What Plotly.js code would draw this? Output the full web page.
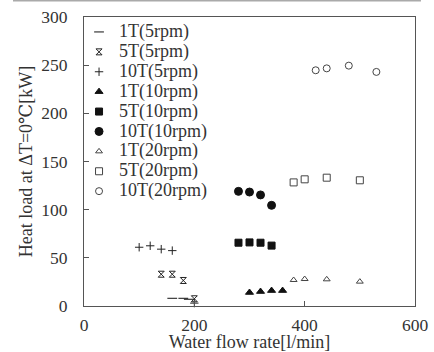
<!DOCTYPE html>
<html><head><meta charset="utf-8">
<script src="https://cdn.plot.ly/plotly-3.0.1.min.js"></script>
<style>html,body{margin:0;padding:0;background:#fff}</style>
</head><body><div id="chart" style="width:434px;height:352px"></div>
<script>
const seriesNames = ['1T(5rpm)','5T(5rpm)','10T(5rpm)','1T(10rpm)','5T(10rpm)','10T(10rpm)','1T(20rpm)','5T(20rpm)','10T(20rpm)'];
const flow_1T5  = [160, 180, 190];
const load_1T5  = [8, 8, 7];
const flow_5T5  = [140, 160, 180, 200];
const load_5T5  = [33, 33, 26.5, 7.5];
const flow_10T5 = [100, 120, 140, 160, 200];
const load_10T5 = [61, 62.5, 59, 57.5, 3];
const flow_1T10  = [300, 320, 340, 360];
const load_1T10  = [14, 15, 16, 16];
const flow_5T10  = [280, 300, 320, 340];
const load_5T10  = [65.7, 66, 65.7, 62.7];
const flow_10T10 = [280, 300, 320, 340];
const load_10T10 = [119, 118.3, 115.3, 104.5];
const flow_1T20  = [380, 400, 440, 500];
const load_1T20  = [27, 28, 27.7, 25.3];
const flow_5T20  = [380, 400, 440, 500];
const load_5T20  = [128.3, 131.5, 133.2, 130.5];
const flow_10T20 = [420, 440, 480, 530];
const load_10T20 = [244.7, 246.7, 249.5, 243];
const xTicks = [0, 200, 400, 600];
const yTicks = [0, 50, 100, 150, 200, 250, 300];

const flows = [flow_1T5, flow_5T5, flow_10T5, flow_1T10, flow_5T10, flow_10T10, flow_1T20, flow_5T20, flow_10T20];
const loads = [load_1T5, load_5T5, load_10T5, load_1T10, load_5T10, load_10T10, load_1T20, load_5T20, load_10T20];
const symbols = ['line-ew-open','hourglass-open','cross-thin-open','triangle-up','square','circle','triangle-up-open','square-open','circle-open'];
const sizes = [7, 6, 6, 7, 7, 8, 6, 7, 7];
const colors = ['#111','#222','#222','#111','#111','#111','#444','#444','#444'];

const traces = seriesNames.map((n, i) => ({
  type: 'scatter', mode: 'markers',
  x: flows[i], y: loads[i],
  name: '<span style="font-size:18px">' + n + '</span>',
  marker: {symbol: symbols[i], size: sizes[i], color: colors[i], line: {color: colors[i], width: 1}},
  cliponaxis: false
}));

const fam = '"Liberation Serif", "DejaVu Serif", serif';
const font = {family: fam, size: 18, color: '#333'};
const layout = {
  width: 434, height: 352,
  margin: {l: 84, r: 19, t: 17, b: 46},
  paper_bgcolor: '#fff', plot_bgcolor: '#fff',
  font: font,
  showlegend: true,
  legend: {x: -0.015, y: 1, xanchor: 'left', yanchor: 'top', bgcolor: 'rgba(0,0,0,0)',
           font: {family: fam, size: 13, color: '#333'}, borderwidth: 0},
  shapes: [{type: 'line', xref: 'paper', yref: 'paper', x0: -0.2145, x1: 1.018, y0: 1.057, y1: 1.057,
            line: {color: '#aaa', width: 2}}],
  xaxis: {range: [0, 600], tickvals: xTicks, ticktext: xTicks.map(String),
          ticks: 'inside', ticklen: 5, tickcolor: '#555', showgrid: false, zeroline: false,
          showline: true, linecolor: '#555', linewidth: 1, mirror: true,
          ticklabelstandoff: 3, tickfont: {family: fam, size: 17.5, color: '#333'},
          title: {text: 'Water flow rate[l/min]', font: font, standoff: 1}},
  yaxis: {range: [0, 300], tickvals: yTicks, ticktext: yTicks.map(String),
          ticks: 'inside', ticklen: 5, tickcolor: '#555', showgrid: false, zeroline: false,
          showline: true, linecolor: '#555', linewidth: 1, mirror: true,
          ticklabelstandoff: 12, tickfont: {family: fam, size: 17.5, color: '#333'},
          title: {text: 'Heat load at ΔT=0℃[kW]', font: font, standoff: 3}}
};
Plotly.newPlot('chart', traces, layout, {staticPlot: true, displayModeBar: false});
</script></body></html>
